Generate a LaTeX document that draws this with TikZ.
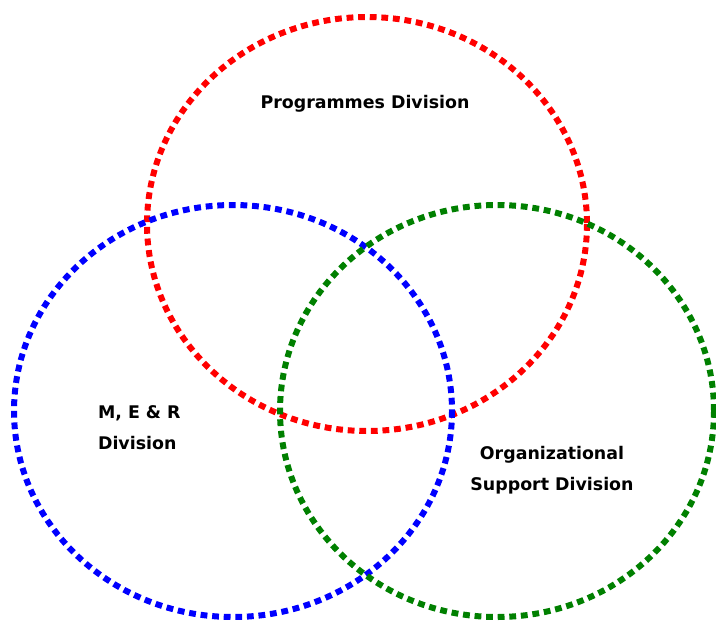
\documentclass[tikz,border=0pt]{standalone}
\usepackage{fontspec}
\setmainfont{DejaVu Sans}
\usepackage{xcolor}
\usepackage{tikz}
\usetikzlibrary{positioning}

\definecolor{vennred}{RGB}{255,0,0}
\definecolor{vennblue}{RGB}{0,0,255}
\definecolor{venngreen}{RGB}{0,128,0}

\begin{document}
\begin{tikzpicture}[
  x=0.5pt, y=-0.5pt,
  ring/.style={line width=3pt, dash pattern=on 3.4pt off 2.4pt},
  lbl/.style={font=\bfseries\fontsize{8.7}{15.5}\selectfont, align=center}
]
\useasboundingbox (0,0) rectangle (716,622);

% the three divisions
\draw[ring, vennred]   (367,224) ellipse [x radius=220, y radius=207];
\draw[ring, vennblue]  (233,411) ellipse [x radius=219, y radius=206];
\draw[ring, venngreen] (497,411) ellipse [x radius=217, y radius=206];

\node[lbl] (prog) at (365,104) {Programmes Division};
\node[lbl, align=left, anchor=west] (mer) at (91,428) {M, E \& R\\Division};
\node[lbl] (org) at (552,470) {Organizational\\Support Division};
\end{tikzpicture}
\end{document}
